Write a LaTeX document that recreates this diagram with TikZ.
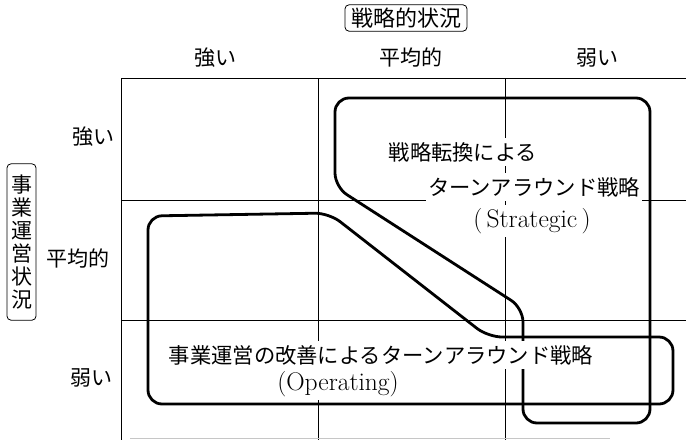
\documentclass[tikz,border=0pt]{standalone}
\usepackage{fontspec}
\newfontfamily\jp{Noto Sans CJK JP}
\begin{document}
\begin{tikzpicture}[x=1pt,y=-1pt,
  grid/.style={line width=0.8pt},
  zone/.style={line width=2.8pt,rounded corners=14pt,line join=round},
  lbl/.style={font=\jp\fontsize{21}{23}\selectfont,inner sep=1pt},
  txt/.style={font=\jp\fontsize{21.3}{23}\selectfont,fill=white,inner xsep=2pt,inner ysep=4pt},
  lat/.style={font=\fontsize{25.5}{26}\selectfont,fill=white,inner xsep=2pt,inner ysep=3pt},
  headbox/.style={draw,line width=0.8pt,rounded corners=4pt}]
\useasboundingbox (0,0) rectangle (686,440);
% grid
\draw[grid] (121,78) -- (686,78);
\draw[grid] (121,200) -- (686,200);
\draw[grid] (121,320) -- (686,320);
\draw[grid] (121,78) -- (121,440);
\draw[grid] (318,78) -- (318,440);
\draw[grid] (505,78) -- (505,440);
\draw[line width=0.8pt,gray!45] (130,438) -- (610,438);
% headings
\node[headbox,font=\jp\fontsize{22}{24}\selectfont,inner xsep=6pt,inner ysep=3pt] (title) at (406,18) {戦略的状況};
\node[lbl] (cs) at (215,58) {強い};
\node[lbl] (ca) at (411,58) {平均的};
\node[lbl] (cw) at (597,58) {弱い};
\node[headbox,font=\jp\fontsize{21}{23}\selectfont,align=center,inner xsep=4pt,inner ysep=11pt] (side) at (21.5,242) {事\\業\\運\\営\\状\\況};
\node[lbl] (rs) at (93,137) {強い};
\node[lbl] (ra) at (77.5,259) {平均的};
\node[lbl] (rw) at (91,378) {弱い};
% zones
\draw[zone] (148,300) -- (148,216) -- (329,213) -- (488,337) -- (673,337) -- (673,404) -- (148,404) -- cycle;
\draw[zone] (335,150) -- (335,98) -- (650,98) -- (650,423) -- (523,423) -- (523,308) -- (335,187) -- cycle;
% texts
\node[txt] (s1) at (463,152) {戦略転換による};
\node[txt] (s2) at (534,187) {ターンアラウンド戦略};
\node[lat] (s3) at (532,221) {(\,Strategic\,)};
\node[txt] (o1) at (381,355) {事業運営の改善によるターンアラウンド戦略};
\node[lat] (o2) at (338,384) {(Operating)};
\end{tikzpicture}
\end{document}
